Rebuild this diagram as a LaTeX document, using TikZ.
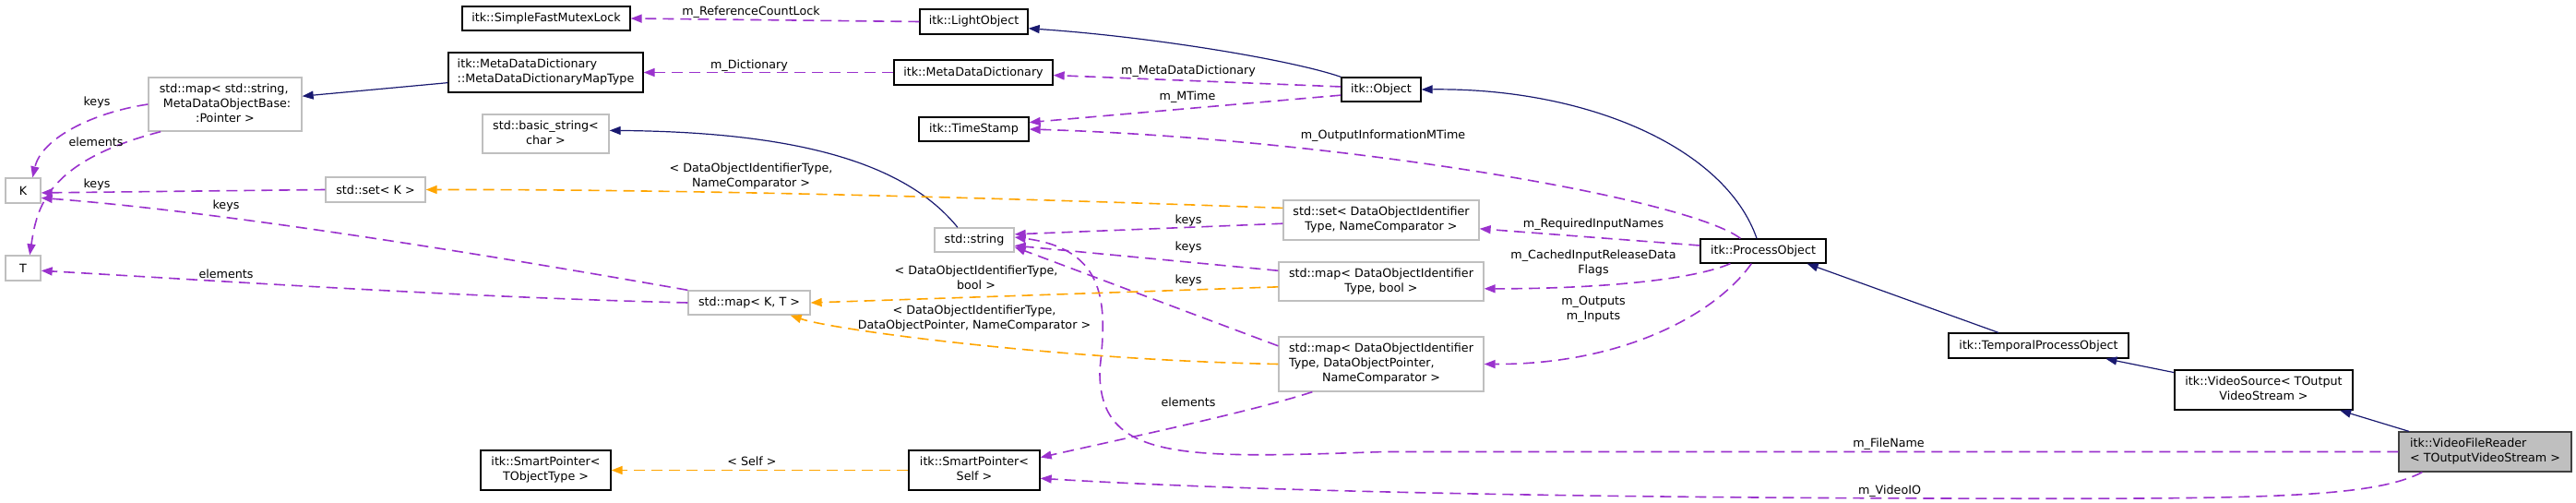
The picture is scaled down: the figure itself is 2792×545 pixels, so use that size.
\documentclass[tikz,border=0pt]{standalone}
\usepackage{fontspec}
\setmainfont{DejaVu Sans}
\usepackage{xcolor}
\usepackage{tikz}
\usetikzlibrary{arrows.meta,positioning}
\definecolor{inhnavy}{HTML}{191970}
\definecolor{usepurple}{HTML}{9A32CD}
\definecolor{tplorange}{HTML}{FFA500}
\definecolor{extgray}{HTML}{BFBFBF}
\newcommand{\clsname}[2]{\begin{tabular}{@{}l@{}}#1\\\multicolumn{1}{@{}c@{}}{#2}\end{tabular}}

\begin{document}
\begin{tikzpicture}[x=1pt, y=-1pt, font=\fontsize{12.7}{16}\selectfont, every node/.style={inner sep=2pt}]
        \tikzset{
            cls/.style={draw, line width=1.3pt, fill=white, align=center},
            ext/.style={cls, draw=extgray},
            lbl/.style={align=center, inner sep=0pt},
            inh/.style={-{Triangle[length=12pt,width=9pt]}, draw=inhnavy, line width=1.2pt},
            use/.style={-{Triangle[length=12pt,width=9pt]}, draw=usepurple, line width=1.6pt, dash pattern=on 12pt off 7pt},
            tpl/.style={use, draw=tplorange}
        }
        \useasboundingbox (0,0) rectangle (2792,545);
        \node[cls, minimum width=182pt, minimum height=26pt] (sfml) at (592,20) {itk::SimpleFastMutexLock};
        \node[cls, minimum width=211pt, minimum height=43pt] (mddmt) at (591.5,78.5) {\clsname{itk::MetaDataDictionary}{::MetaDataDictionaryMapType}};
        \node[ext, minimum width=166pt, minimum height=58pt] (mapstr) at (244,113) {\clsname{std::map< std::string,\\\ MetaDataObjectBase:}{:Pointer >}};
        \node[ext, minimum width=137pt, minimum height=42pt] (bstr) at (591.5,145) {\clsname{std::basic\_string<}{char >}};
        \node[ext, minimum width=38pt, minimum height=27pt] (K) at (25,206.5) {K};
        \node[ext, minimum width=108pt, minimum height=27pt] (setK) at (407,205.5) {std::set< K >};
        \node[ext, minimum width=38pt, minimum height=27pt] (T) at (25,290.5) {T};
        \node[ext, minimum width=132pt, minimum height=26pt] (mapKT) at (812,328) {std::map< K, T >};
        \node[cls, minimum width=141pt, minimum height=43pt] (spT) at (591.5,509.5) {\clsname{itk::SmartPointer<}{TObjectType >}};
        \node[cls, minimum width=117pt, minimum height=27pt] (light) at (1055.5,23.5) {itk::LightObject};
        \node[cls, minimum width=172pt, minimum height=27pt] (mdd) at (1055,78.5) {itk::MetaDataDictionary};
        \node[cls, minimum width=119pt, minimum height=26pt] (ts) at (1055.5,140) {itk::TimeStamp};
        \node[ext, minimum width=86pt, minimum height=26pt] (str) at (1056,260) {std::string};
        \node[cls, minimum width=142pt, minimum height=43pt] (spS) at (1056,509.5) {\clsname{itk::SmartPointer<}{Self >}};
        \node[cls, minimum width=86pt, minimum height=26pt] (obj) at (1497,97) {itk::Object};
        \node[ext, minimum width=212pt, minimum height=43pt] (setDOI) at (1497,238.5) {\clsname{std::set< DataObjectIdentifier}{Type, NameComparator >}};
        \node[ext, minimum width=222pt, minimum height=42pt] (mapB) at (1497,305) {\clsname{std::map< DataObjectIdentifier}{Type, bool >}};
        \node[ext, minimum width=222pt, minimum height=59pt] (mapP) at (1497,394.5) {\clsname{std::map< DataObjectIdentifier\\Type, DataObjectPointer,}{NameComparator >}};
        \node[cls, minimum width=136pt, minimum height=26pt] (po) at (1911,272) {itk::ProcessObject};
        \node[cls, minimum width=195pt, minimum height=27pt] (tpo) at (2209.5,374.5) {itk::TemporalProcessObject};
        \node[cls, minimum width=193pt, minimum height=43pt] (vs) at (2453.5,422.5) {\clsname{itk::VideoSource< TOutput}{VideoStream >}};
        \node[cls, fill=extgray, draw=black!75, minimum width=187pt, minimum height=43pt] (vfr) at (2693.5,489.5) {\clsname{itk::VideoFileReader}{< TOutputVideoStream >}};
        \draw[inh] (mddmt.186) -- (mapstr.6);
        \draw[inh] (obj.north west) .. controls (1400,65) and (1250,40) .. (light.-7);
        \draw[inh] (po.117) .. controls (1870,160) and (1720,95) .. (obj.east);
        \draw[inh] (str.143) .. controls (980,175) and (860,143) .. (bstr.3);
        \draw[inh] (tpo.162) -- (po.-16);
        \draw[inh] (vs.169) -- (tpo.-11);
        \draw[inh] (vfr.165) -- (vs.-15);
        \draw[use] (light.west) -- (sfml.east);
        \draw[use] (mdd.west) -- (mddmt.east);
        \draw[use] (obj.176) -- (mdd.-2);
        \draw[use] (obj.-172) -- (ts.7);
        \draw[use] (po.151) .. controls (1830,215) and (1450,150) .. (ts.east);
        \draw[use] (po.175) -- (setDOI.-5);
        \draw[use] (po.-159) .. controls (1830,305) and (1720,313) .. (mapB.-4);
        \draw[use] (po.-133) .. controls (1860,340) and (1760,395) .. (mapP.east);
        \draw[use] (vfr.west) -- (1500,489.5) .. controls (1280,497) and (1190,500) .. (1192,400) .. controls (1200,330) and (1200,270) .. (str.4);
        \draw[use] (vfr.-162) .. controls (2570,540) and (2450,541) .. (2100,540) .. controls (1700,539) and (1350,532) .. (spS.-7);
        \draw[use] (setDOI.182) -- (str.8);
        \draw[use] (mapB.174) -- (str.-8);
        \draw[use] (mapP.170) -- (str.-10);
        \draw[use] (mapP.-158) .. controls (1360,445) and (1220,475) .. (spS.11);
        \draw[use] (mapstr.west) .. controls (100,122) and (45,150) .. (K.54);
        \draw[use] (mapstr.-157) .. controls (50,175) and (40,225) .. (T.63);
        \draw[use] (setK.west) -- (K.-7);
        \draw[use] (mapKT.north west) .. controls (550,280) and (250,230) .. (K.-22);
        \draw[use] (mapKT.west) .. controls (500,322) and (250,305) .. (T.-8);
        \draw[tpl] (setDOI.173) .. controls (1100,215) and (750,205) .. (setK.east);
        \draw[tpl] (mapB.183) -- (mapKT.east);
        \draw[tpl] (mapP.west) .. controls (1150,390) and (905,358) .. (mapKT.-17);
        \draw[tpl] (spS.west) -- (spT.east);
        \node[lbl] (lRefLock) at (814,13) {m\_ReferenceCountLock};
        \node[lbl] (lDict) at (812,71) {m\_Dictionary};
        \node[lbl] (lMetaDict) at (1288,77) {m\_MetaDataDictionary};
        \node[lbl] (lMTime) at (1287,105) {m\_MTime};
        \node[lbl] (lOutMTime) at (1499,147) {m\_OutputInformationMTime};
        \node[lbl] (lReqNames) at (1727,243) {m\_RequiredInputNames};
        \node[lbl] (lCached) at (1727,285) {m\_CachedInputReleaseData\\Flags};
        \node[lbl] (lInOut) at (1727,335) {m\_Outputs\\m\_Inputs};
        \node[lbl] (lFileName) at (2047,481) {m\_FileName};
        \node[lbl] (lVideoIO) at (2048,532) {m\_VideoIO};
        \node[lbl] (lKeysSet) at (1288,239) {keys};
        \node[lbl] (lKeysBool) at (1288,268) {keys};
        \node[lbl] (lKeysPtr) at (1288,304) {keys};
        \node[lbl] (lTplSet) at (814,190.5) {< DataObjectIdentifierType,\\NameComparator >};
        \node[lbl] (lTplBool) at (1058,300.5) {< DataObjectIdentifierType,\\bool >};
        \node[lbl] (lTplPtr) at (1056,345) {< DataObjectIdentifierType,\\DataObjectPointer, NameComparator >};
        \node[lbl] (lElemPtr) at (1288,436) {elements};
        \node[lbl] (lSelf) at (815,500) {< Self >};
        \node[lbl] (lKeysStr) at (105,111) {keys};
        \node[lbl] (lElemStr) at (104,154) {elements};
        \node[lbl] (lKeysK) at (105,200) {keys};
        \node[lbl] (lKeysKT) at (245,223) {keys};
        \node[lbl] (lElemKT) at (245,297) {elements};
    \end{tikzpicture}
\end{document}
